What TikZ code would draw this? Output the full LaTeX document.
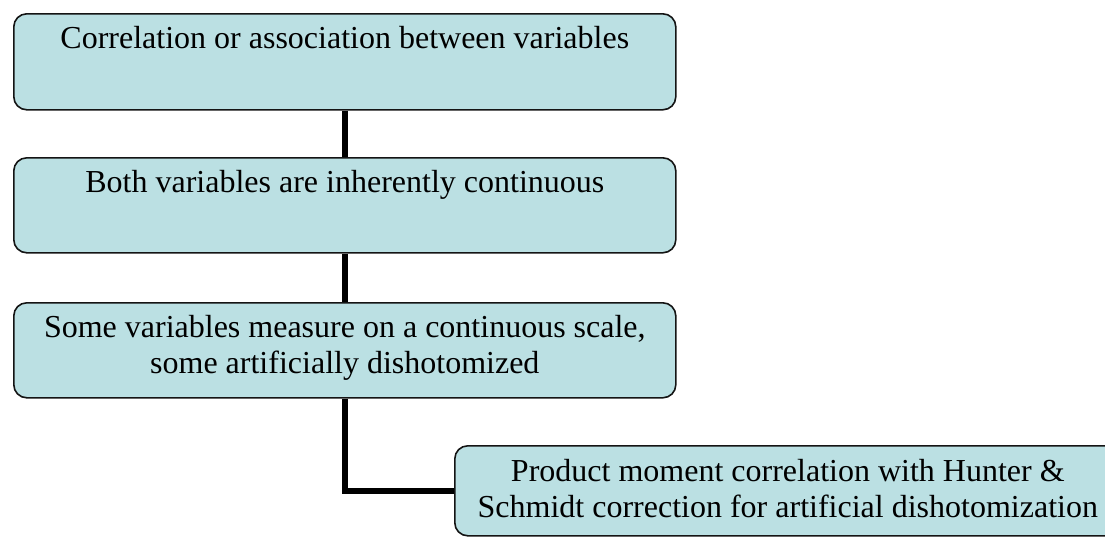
\documentclass[tikz,border=0pt]{standalone}
\usepackage{fontspec}
\setmainfont{Liberation Serif}
\definecolor{boxblue}{RGB}{187,224,227}
\definecolor{edge}{RGB}{20,20,20}
\tikzset{
  stepbox/.style={draw=edge, line width=1.6pt, fill=boxblue, rounded corners=13pt,
    anchor=north west, inner sep=0pt, minimum width=662pt},
  % multi-line labels are placed by the baseline of their last line
  boxtext/.style={anchor=base, align=center, inner sep=0pt, text=black,
    font=\fontsize{32}{36}\selectfont},
  conn/.style={draw=black, line width=5.5pt}
}
\begin{document}
\begin{tikzpicture}[x=1pt,y=-1pt]
\useasboundingbox (0,0) rectangle (1105,536);
\clip (0,0) rectangle (1105,536);

% boxes
\node[stepbox, minimum height=96pt] (b1) at (13,13) {};
\node[stepbox, minimum height=95pt] (b2) at (13,157) {};
\node[stepbox, minimum height=95pt] (b3) at (13,302) {};
\node[stepbox, minimum width=666pt, minimum height=90pt] (b4) at (454,445) {};

% connectors
\draw[conn] (b1.south) -- (b2.north);
\draw[conn] (b2.south) -- (b3.north);
\draw[conn] (b3.south) |- (b4.west);

% labels
\node[boxtext] (t1) at ([yshift=-35pt]b1.north) {Correlation or association between variables};
\node[boxtext] (t2) at ([yshift=-35pt]b2.north) {Both variables are inherently continuous};
\node[boxtext] (t3) at ([yshift=-71pt]b3.north) {Some variables measure on a continuous scale,\\some artificially dishotomized};
\node[boxtext] (t4) at ([yshift=-72pt]b4.north) {Product moment correlation with Hunter \&\\Schmidt correction for artificial dishotomization};
\end{tikzpicture}
\end{document}
